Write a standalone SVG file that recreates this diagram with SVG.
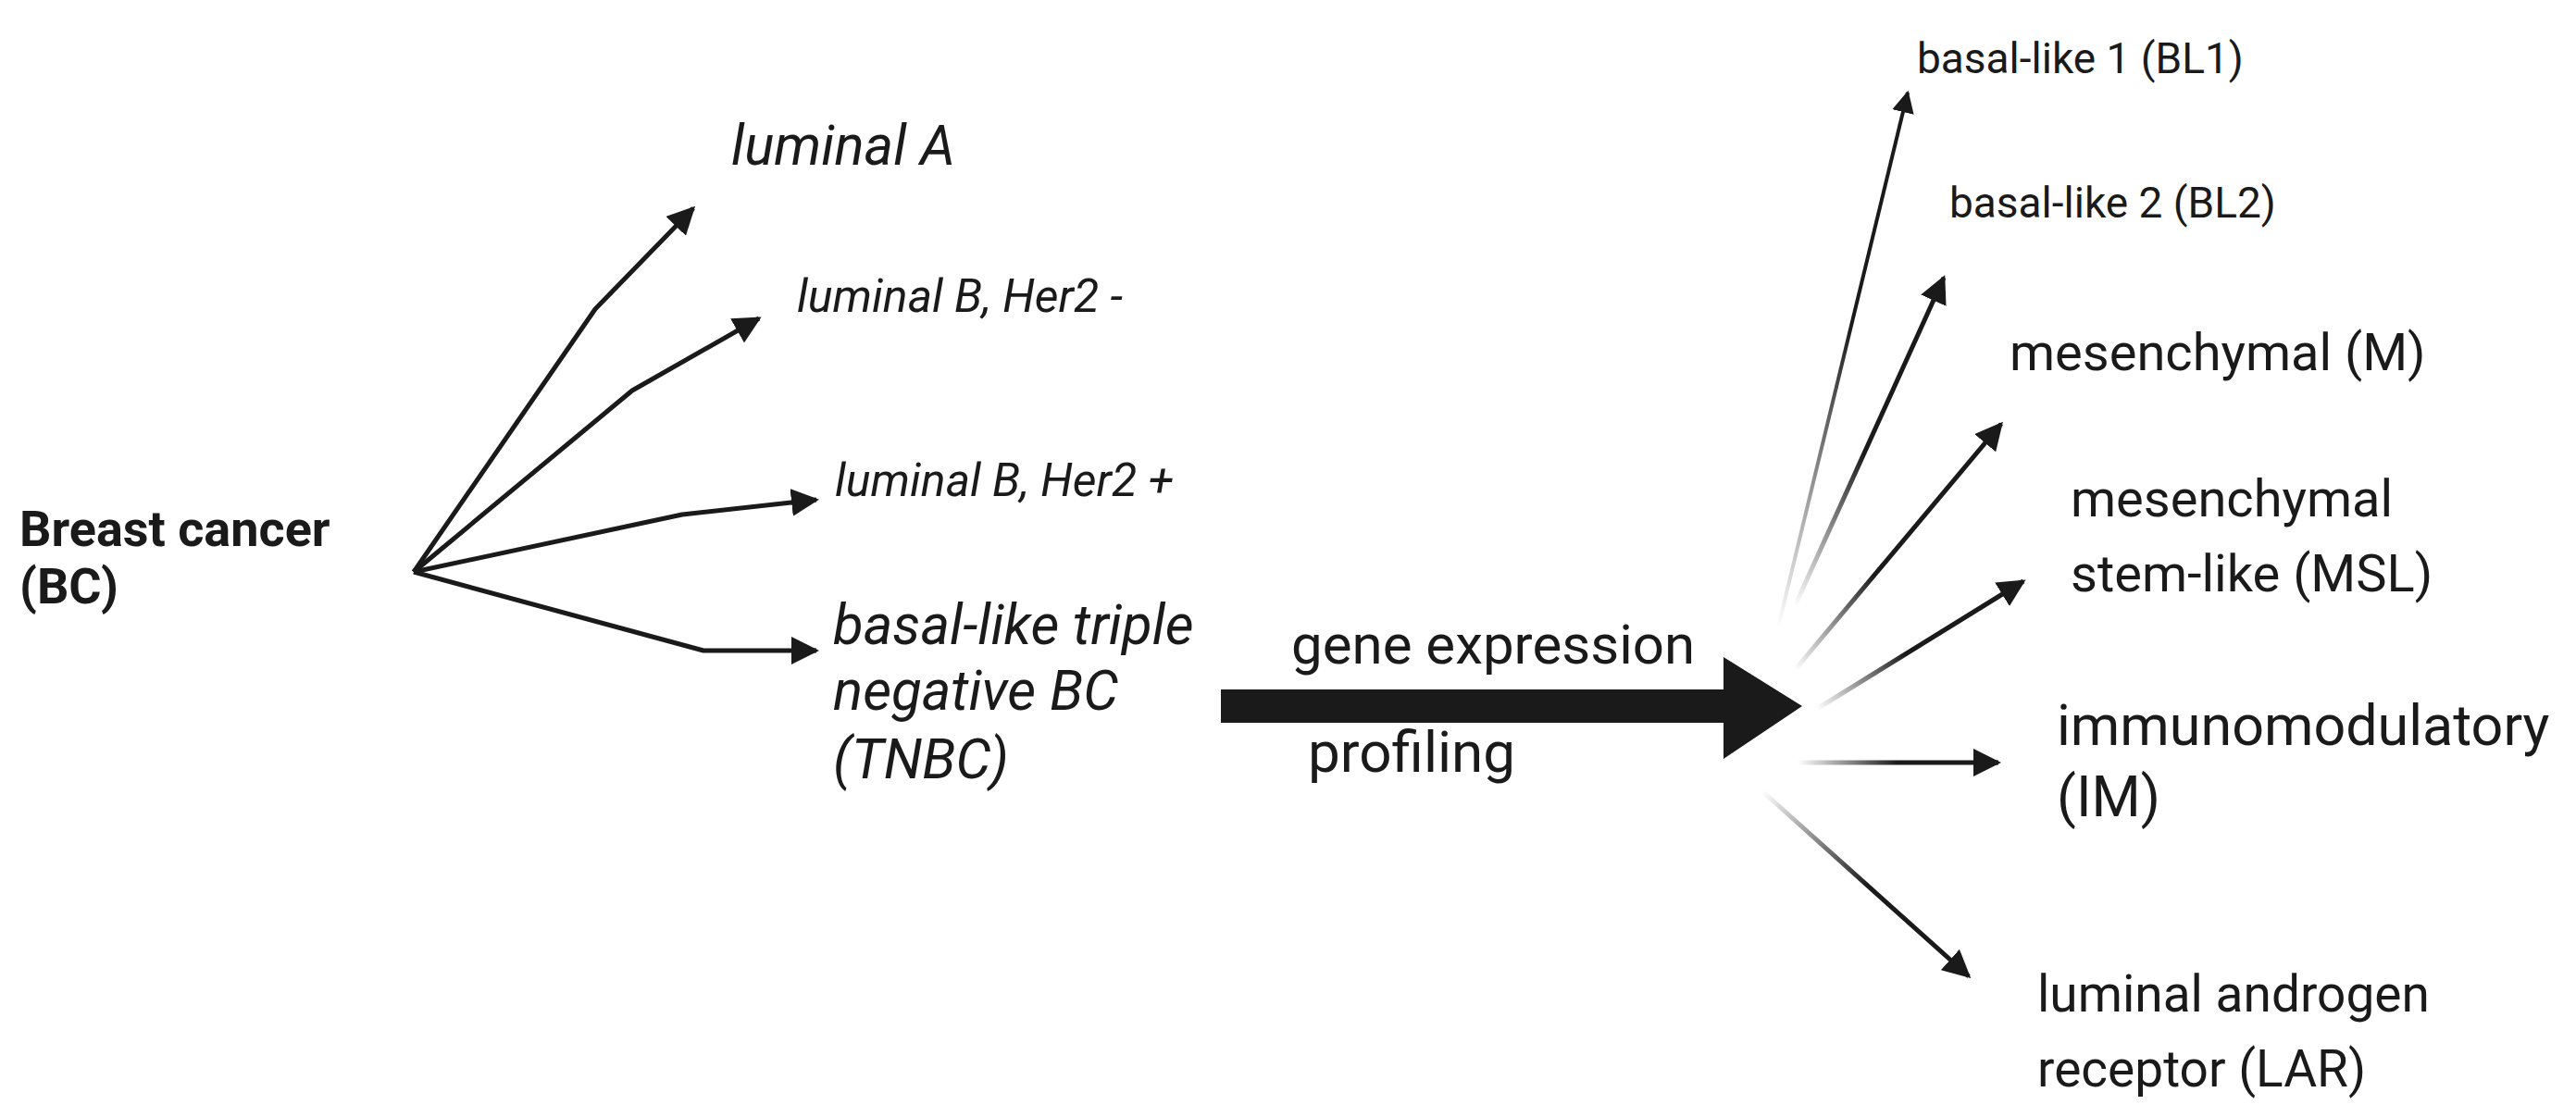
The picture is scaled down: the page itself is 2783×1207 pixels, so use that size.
<svg xmlns="http://www.w3.org/2000/svg" width="2783" height="1207" viewBox="0 0 2783 1207">
<style>
text{font-family:Roboto,"Liberation Sans",sans-serif;fill:#1a1a1a}
.it{font-style:italic}
.b{font-weight:bold;font-size:54px}
.c{fill:none;stroke:#1a1a1a;stroke-width:5;stroke-linejoin:round}
</style>
<defs>
<marker id="ah" viewBox="0 0 10 10" refX="9" refY="5" markerWidth="6" markerHeight="6" markerUnits="strokeWidth" orient="auto"><path d="M0,0L10,5L0,10z" fill="#1a1a1a"/></marker>
<linearGradient id="g1" gradientUnits="userSpaceOnUse" x1="1921" y1="678" x2="2000" y2="350"><stop offset="0" stop-color="#1a1a1a" stop-opacity="0"/><stop offset="1" stop-color="#1a1a1a"/></linearGradient>
<linearGradient id="g2" gradientUnits="userSpaceOnUse" x1="1939" y1="655" x2="2030" y2="500"><stop offset="0" stop-color="#1a1a1a" stop-opacity="0"/><stop offset="1" stop-color="#1a1a1a"/></linearGradient>
<linearGradient id="g3" gradientUnits="userSpaceOnUse" x1="1939" y1="724" x2="2040" y2="640"><stop offset="0" stop-color="#1a1a1a" stop-opacity="0"/><stop offset="1" stop-color="#1a1a1a"/></linearGradient>
<linearGradient id="g4" gradientUnits="userSpaceOnUse" x1="1963" y1="766" x2="2060" y2="710"><stop offset="0" stop-color="#1a1a1a" stop-opacity="0"/><stop offset="1" stop-color="#1a1a1a"/></linearGradient>
<linearGradient id="g5" gradientUnits="userSpaceOnUse" x1="1942" y1="824" x2="2050" y2="824"><stop offset="0" stop-color="#1a1a1a" stop-opacity="0"/><stop offset="1" stop-color="#1a1a1a"/></linearGradient>
<linearGradient id="g6" gradientUnits="userSpaceOnUse" x1="1904" y1="855" x2="2020" y2="955"><stop offset="0" stop-color="#1a1a1a" stop-opacity="0"/><stop offset="1" stop-color="#1a1a1a"/></linearGradient>
</defs>
<rect width="2783" height="1207" fill="#fff"/>
<g id="connectors">
<path class="c" d="M447,618L643,334L749,225" marker-end="url(#ah)"/>
<path class="c" d="M447,618L683,422L820,344" marker-end="url(#ah)"/>
<path class="c" d="M447,618L737,556L882,540" marker-end="url(#ah)"/>
<path class="c" d="M447,618L760,703L882,703" marker-end="url(#ah)"/>
<path d="M1319,745H1862V710L1947,763L1862,820V781H1319z" fill="#1a1a1a"/>
<path class="c" style="stroke:url(#g1);stroke-width:4" d="M1921,678L2061,100" marker-end="url(#ah)"/>
<path class="c" style="stroke:url(#g2)" d="M1939,655L2100,300" marker-end="url(#ah)"/>
<path class="c" style="stroke:url(#g3)" d="M1939,724L2162,458" marker-end="url(#ah)"/>
<path class="c" style="stroke:url(#g4)" d="M1963,766L2186,628" marker-end="url(#ah)"/>
<path class="c" style="stroke:url(#g5)" d="M1942,824L2159,824" marker-end="url(#ah)"/>
<path class="c" style="stroke:url(#g6)" d="M1904,855L2127,1055" marker-end="url(#ah)"/>
</g>
<g id="bc"><text class="b" x="21" y="590">Breast cancer</text><text class="b" x="21" y="652">(BC)</text></g>
<g id="lumA"><text class="it" x="790" y="178" style="font-size:60px">luminal A</text></g>
<g id="lumBneg"><text class="it" x="861" y="337" style="font-size:50px">luminal B, Her2 -</text></g>
<g id="lumBpos"><text class="it" x="902" y="536" style="font-size:50px">luminal B, Her2 +</text></g>
<g id="tnbc"><text class="it" x="900" y="696" style="font-size:60px">basal-like triple</text><text class="it" x="900" y="767" style="font-size:60px">negative BC</text><text class="it" x="900" y="841" style="font-size:60px">(TNBC)</text></g>
<g id="gep"><text x="1395" y="717" style="font-size:60px">gene expression</text><text x="1413" y="834" style="font-size:62px">profiling</text></g>
<g id="bl1"><text x="2071" y="79" style="font-size:46px">basal-like 1 (BL1)</text></g>
<g id="bl2"><text x="2106" y="235" style="font-size:46px">basal-like 2 (BL2)</text></g>
<g id="m"><text x="2171" y="400" style="font-size:56px">mesenchymal (M)</text></g>
<g id="msl"><text x="2237" y="558" style="font-size:56px">mesenchymal</text><text x="2237" y="639" style="font-size:56px">stem-like (MSL)</text></g>
<g id="im"><text x="2222" y="805" style="font-size:61px">immunomodulatory</text><text x="2222" y="882" style="font-size:61px">(IM)</text></g>
<g id="lar"><text x="2201" y="1093" style="font-size:55px">luminal androgen</text><text x="2201" y="1174" style="font-size:55px">receptor (LAR)</text></g>
</svg>
